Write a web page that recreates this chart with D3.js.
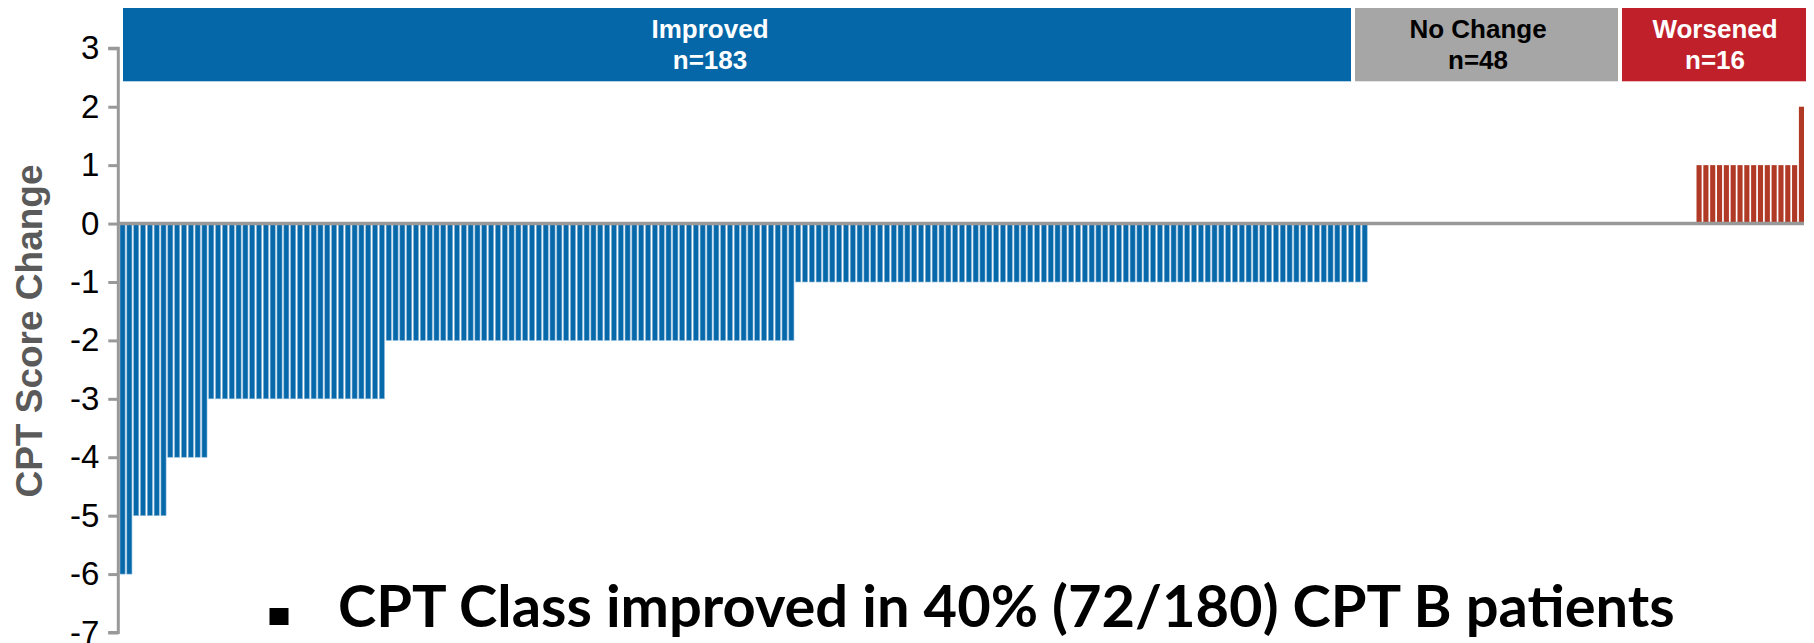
<!DOCTYPE html>
<html>
<head>
<meta charset="utf-8">
<script src="https://cdn.jsdelivr.net/npm/d3@7/dist/d3.min.js"></script>
<style>
  html, body { margin: 0; padding: 0; background: #fff; }
  svg { display: block; }
</style>
</head>
<body>
<svg id="chart" width="1814" height="643"></svg>
<script>
// CPT score change per patient, sorted from largest improvement to worsening
const improvedValues = [
  -6, -6,
  -5, -5, -5, -5, -5,
  -4, -4, -4, -4, -4, -4,
  -3, -3, -3, -3, -3, -3, -3, -3, -3, -3, -3, -3, -3,
  -3, -3, -3, -3, -3, -3, -3, -3, -3, -3, -3, -3, -3,
  -2, -2, -2, -2, -2, -2, -2, -2, -2, -2,
  -2, -2, -2, -2, -2, -2, -2, -2, -2, -2,
  -2, -2, -2, -2, -2, -2, -2, -2, -2, -2,
  -2, -2, -2, -2, -2, -2, -2, -2, -2, -2,
  -2, -2, -2, -2, -2, -2, -2, -2, -2, -2,
  -2, -2, -2, -2, -2, -2, -2, -2, -2, -2,
  -1, -1, -1, -1, -1, -1, -1, -1, -1, -1, -1, -1,
  -1, -1, -1, -1, -1, -1, -1, -1, -1, -1, -1, -1,
  -1, -1, -1, -1, -1, -1, -1, -1, -1, -1, -1, -1,
  -1, -1, -1, -1, -1, -1, -1, -1, -1, -1, -1, -1,
  -1, -1, -1, -1, -1, -1, -1, -1, -1, -1, -1, -1,
  -1, -1, -1, -1, -1, -1, -1, -1, -1, -1, -1, -1,
  -1, -1, -1, -1, -1, -1, -1, -1, -1, -1, -1, -1
];
const noChangeValues = [
  0, 0, 0, 0, 0, 0, 0, 0, 0, 0, 0, 0,
  0, 0, 0, 0, 0, 0, 0, 0, 0, 0, 0, 0,
  0, 0, 0, 0, 0, 0, 0, 0, 0, 0, 0, 0,
  0, 0, 0, 0, 0, 0, 0, 0, 0, 0, 0, 0
];
const worsenedValues = [
  1, 1, 1, 1, 1, 1, 1, 1, 1, 1, 1, 1, 1, 1, 1,
  2
];

const groupLabels = ["Improved", "No Change", "Worsened"];
const groupCounts = [183, 48, 16];
const yTicks = [3, 2, 1, 0, -1, -2, -3, -4, -5, -6, -7];
const yTitle = "CPT Score Change";
const footnote = "CPT Class improved in 40% (72/180) CPT B patients";

// ---- layout & styles ----
const svg = d3.select("#chart");
const colors = {
  improvedBar: "#0769aa",
  improvedEdge: "#8ab8db",
  worsenedBar: "#b03a26",
  axis: "#999999",
  headers: ["#0567a8", "#a6a6a6", "#c0202a"],
  headerText: ["#ffffff", "#000000", "#ffffff"],
  title: "#5a5a5a"
};

const patients = [
  ...improvedValues.map(v => ({ v, g: 0 })),
  ...noChangeValues.map(v => ({ v, g: 1 })),
  ...worsenedValues.map(v => ({ v, g: 2 }))
].map((d, i) => ({ ...d, i }));

const x = d3.scaleBand()
  .domain(patients.map(d => d.i))
  .range([120, 1804])
  .paddingInner(0.25)
  .paddingOuter(0);

const y = d3.scaleLinear().domain([-7, 3]).range([632.5, 48.3]);

const axisX = 118.3;

// bars
svg.append("g")
  .selectAll("rect")
  .data(patients.filter(d => d.v !== 0))
  .join("rect")
  .attr("x", d => x(d.i))
  .attr("width", x.bandwidth())
  .attr("y", d => y(Math.max(0, d.v)))
  .attr("height", d => Math.abs(y(d.v) - y(0)))
  .attr("fill", d => d.g === 0 ? colors.improvedBar : colors.worsenedBar)
  .attr("stroke", d => d.g === 0 ? colors.improvedEdge : "none")
  .attr("stroke-width", 0.6);

// zero line
svg.append("line")
  .attr("x1", axisX).attr("x2", 1804)
  .attr("y1", y(0)).attr("y2", y(0))
  .attr("stroke", colors.axis)
  .attr("stroke-width", 3.5);

// y axis
const yAxis = d3.axisLeft(y)
  .tickValues(yTicks)
  .tickSize(10)
  .tickPadding(9)
  .tickFormat(d3.format("d"));

const gy = svg.append("g")
  .attr("transform", `translate(${axisX},0)`)
  .call(yAxis);
gy.select(".domain")
  .attr("d", `M-10,${y(3)}H0V${y(-7)}H-10`)
  .attr("stroke", colors.axis)
  .attr("stroke-width", 3)
  .attr("fill", "none");
gy.selectAll(".tick line")
  .attr("stroke", colors.axis)
  .attr("stroke-width", 3);
gy.selectAll(".tick text")
  .attr("font-family", "'Liberation Sans', Arial, sans-serif")
  .attr("font-size", 33)
  .attr("fill", "#000")
  .text(d => d < 0 ? "-" + Math.abs(d) : d);

// y axis title
svg.append("text")
  .attr("transform", "translate(41.5,331) rotate(-90)")
  .attr("text-anchor", "middle")
  .attr("font-family", "'Liberation Sans', Arial, sans-serif")
  .attr("font-weight", "bold")
  .attr("font-size", 37)
  .attr("fill", colors.title)
  .text(yTitle);

// group header boxes
const headerBoxes = [
  { x0: 123, x1: 1351, cx: 710 },
  { x0: 1355, x1: 1618, cx: 1478 },
  { x0: 1622, x1: 1806, cx: 1715 }
];
const headers = svg.append("g")
  .selectAll("g")
  .data(groupLabels.map((label, k) => ({ label, n: groupCounts[k], k, box: headerBoxes[k] })))
  .join("g");
headers.append("rect")
  .attr("x", d => d.box.x0)
  .attr("width", d => d.box.x1 - d.box.x0)
  .attr("y", 8)
  .attr("height", 73.3)
  .attr("fill", d => colors.headers[d.k]);
const ht = headers.append("text")
  .attr("text-anchor", "middle")
  .attr("font-family", "'Liberation Sans', Arial, sans-serif")
  .attr("font-weight", "bold")
  .attr("font-size", 26)
  .attr("fill", d => colors.headerText[d.k]);
ht.append("tspan")
  .attr("x", d => d.box.cx)
  .attr("y", 38)
  .text(d => d.label);
ht.append("tspan")
  .attr("x", d => d.box.cx)
  .attr("y", 68.5)
  .text(d => "n=" + d.n);

// footnote with square bullet
svg.append("rect")
  .attr("x", 269.5).attr("y", 608)
  .attr("width", 19).attr("height", 17)
  .attr("fill", "#000");
const foot = svg.append("text")
  .attr("x", 338)
  .attr("y", 627)
  .attr("font-family", "Lato, 'Open Sans', sans-serif")
  .attr("font-weight", "bold")
  .attr("font-size", 48)
  .attr("fill", "#000")
  .text(footnote);
const targetWidth = 1337;
const w = foot.node().getComputedTextLength();
foot.attr("font-size", 48 * targetWidth / w);
</script>
</body>
</html>
